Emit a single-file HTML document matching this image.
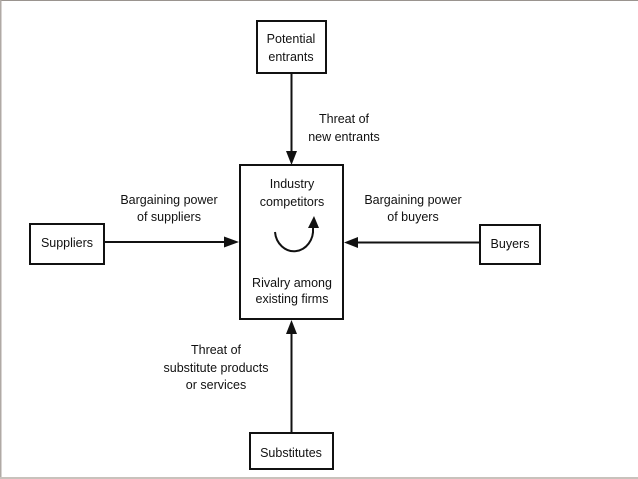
<!DOCTYPE html>
<html><head><style>
html,body{margin:0;padding:0;background:#fff;}
body{width:638px;height:479px;overflow:hidden;position:relative;}
</style></head><body>
<svg width="638" height="479" xmlns="http://www.w3.org/2000/svg" style="position:absolute;left:0;top:0">
<rect x="0" y="0" width="638" height="1" fill="#9a948f"/>
<rect x="0" y="0" width="1.5" height="479" fill="#b0aaa5"/>
<rect x="0" y="477" width="638" height="2" fill="#c8c2bc"/>
<g fill="none" stroke="#111" stroke-width="2">
<rect x="257" y="21" width="69" height="52"/>
<rect x="240" y="165" width="103" height="154"/>
<rect x="30" y="224" width="74" height="40"/>
<rect x="480" y="225" width="60" height="39"/>
<rect x="250" y="433" width="83" height="36"/>
<line x1="291.5" y1="73" x2="291.5" y2="152"/>
<line x1="291.5" y1="334" x2="291.5" y2="433"/>
<line x1="104" y1="242" x2="225" y2="242"/>
<line x1="480" y1="242.5" x2="357" y2="242.5"/>
<path d="M275 232 A18 20 0 1 0 313 228"/>
</g>
<g fill="#111">
<polygon points="286,151 297,151 291.5,165"/>
<polygon points="286,334 297,334 291.5,320"/>
<polygon points="224,236.5 224,247.5 239,242"/>
<polygon points="358,237 358,248 344,242.5"/>
<polygon points="308,228 319,228 314,216"/>
</g>
<g font-family="Liberation Sans, sans-serif" font-size="12.5" fill="#111" text-anchor="middle">
<text x="291" y="43">Potential</text><text x="291" y="61">entrants</text>
<text x="344" y="123">Threat of</text><text x="344" y="141">new entrants</text>
<text x="292" y="188">Industry</text><text x="292" y="206">competitors</text>
<text x="292" y="287">Rivalry among</text><text x="292" y="303">existing firms</text>
<text x="169" y="204">Bargaining power</text><text x="169" y="221">of suppliers</text>
<text x="413" y="204">Bargaining power</text><text x="413" y="221">of buyers</text>
<text x="67" y="247">Suppliers</text>
<text x="510" y="248">Buyers</text>
<text x="216" y="354">Threat of</text><text x="216" y="372">substitute products</text><text x="216" y="389">or services</text>
<text x="291" y="457">Substitutes</text>
</g>
</svg>
</body></html>
